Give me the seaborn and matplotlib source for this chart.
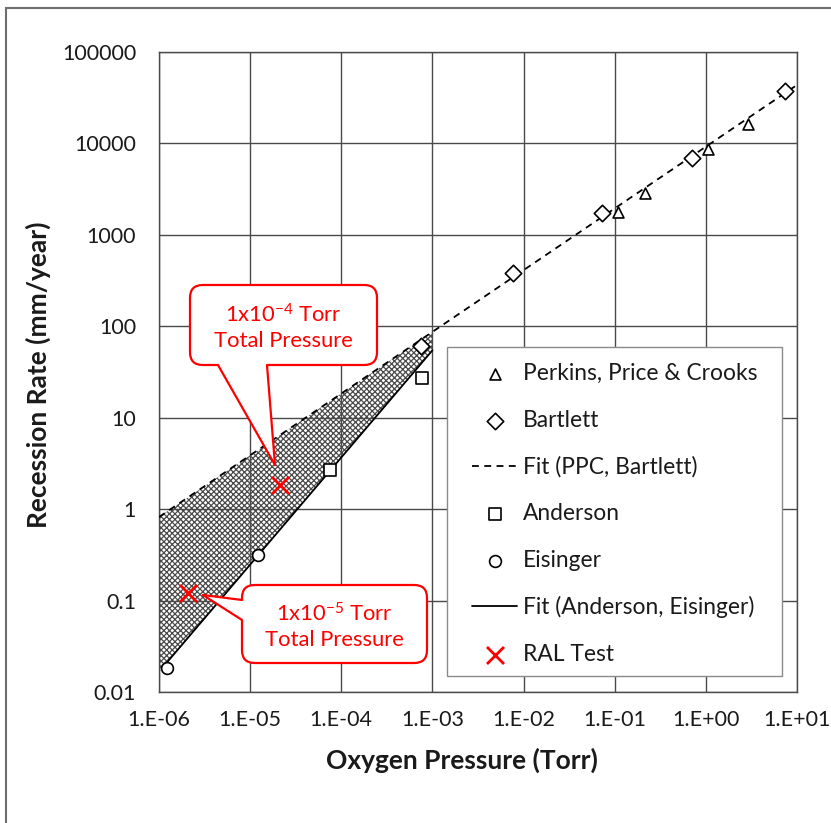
import matplotlib
matplotlib.use("Agg")
import matplotlib.pyplot as plt
import seaborn as sns
from matplotlib.patches import FancyBboxPatch, Polygon, Rectangle
from matplotlib.lines import Line2D
from matplotlib.ticker import FixedLocator, FixedFormatter, NullLocator

# ---- data -------------------------------------------------------------
# Perkins, Price & Crooks
ppc_pressure = [0.109, 0.215, 1.06, 2.9]
ppc_rate = [1780, 2870, 8690, 16300]
# Bartlett
bartlett_pressure = [7.5e-4, 7.66e-3, 0.0726, 0.705, 7.39]
bartlett_rate = [60.8, 383, 1734, 6930, 37460]
# Anderson
anderson_pressure = [7.5e-5, 7.6e-4]
anderson_rate = [2.68, 27.0]
# Eisinger
eisinger_pressure = [1.21e-6, 1.23e-5]
eisinger_rate = [0.0182, 0.315]
# RAL test points (21% O2 at 1e-5 and 1e-4 Torr total pressure)
ral_pressure = [2.1e-6, 2.1e-5]
ral_rate = [0.12, 1.85]
# power-law fits, given by their end points (straight on log-log axes)
fit_ppc_pressure = [1e-6, 1e1]
fit_ppc_rate = [0.82, 43600]
fit_ae_pressure = [1.2e-6, 1e-3]
fit_ae_rate = [0.0206, 54.6]
# band between the two fits
band_pressure = [1e-6, 1e-3]
band_low = [0.0164, 54.6]
band_high = [0.82, 86.9]

x_ticks = [1e-6, 1e-5, 1e-4, 1e-3, 1e-2, 1e-1, 1e0, 1e1]
x_tick_labels = ["1.E-06", "1.E-05", "1.E-04", "1.E-03",
                 "1.E-02", "1.E-01", "1.E+00", "1.E+01"]
y_ticks = [0.01, 0.1, 1, 10, 100, 1000, 10000, 100000]
y_tick_labels = ["0.01", "0.1", "1", "10", "100", "1000", "10000", "100000"]

# ---- style ------------------------------------------------------------
sns.set_style("white")
plt.rcParams["font.family"] = ["Lato", "DejaVu Sans"]
plt.rcParams["mathtext.fontset"] = "custom"
plt.rcParams["mathtext.rm"] = "Lato"
plt.rcParams["mathtext.default"] = "regular"
plt.rcParams["hatch.linewidth"] = 0.9

W, H = 831, 823
fig = plt.figure(figsize=(W / 100, H / 100), dpi=100)
ax_l, ax_r, ax_t, ax_b = 159, 797, 52, 692
ax = fig.add_axes([ax_l / W, 1 - ax_b / H, (ax_r - ax_l) / W, (ax_b - ax_t) / H])
ax.set_xscale("log")
ax.set_yscale("log")


def fx(px):
    return (px - ax_l) / (ax_r - ax_l)


def fy(py):
    return (ax_b - py) / (ax_b - ax_t)


grid_col = "#4a4a4a"
red = "#ff0000"

# hatched band between the fits
ax.fill_between(band_pressure, band_low, band_high, facecolor="none",
                edgecolor="#4a4a4a", linewidth=0, hatch="xxxxxx", zorder=2)

# fit lines
sns.lineplot(x=fit_ppc_pressure, y=fit_ppc_rate, color="black", linewidth=1.3,
             linestyle=(0, (3.8, 3.0)), ax=ax, label="Fit (PPC, Bartlett)", zorder=3)
sns.lineplot(x=fit_ae_pressure, y=fit_ae_rate, color="black", linewidth=1.3,
             ax=ax, label="Fit (Anderson, Eisinger)", zorder=3)

# data points
sns.scatterplot(x=ppc_pressure, y=ppc_rate, marker="^", s=62, color="white",
                edgecolor="black", linewidth=1.2, ax=ax,
                label="Perkins, Price & Crooks", zorder=5)
sns.scatterplot(x=bartlett_pressure, y=bartlett_rate, marker="D", s=70, color="white",
                edgecolor="black", linewidth=1.2, ax=ax, label="Bartlett", zorder=5)
sns.scatterplot(x=anderson_pressure, y=anderson_rate, marker="s", s=72, color="white",
                edgecolor="black", linewidth=1.2, ax=ax, label="Anderson", zorder=5)
sns.scatterplot(x=eisinger_pressure, y=eisinger_rate, marker="o", s=72, color="white",
                edgecolor="black", linewidth=1.2, ax=ax, label="Eisinger", zorder=5)
sns.scatterplot(x=ral_pressure, y=ral_rate, marker="x", s=150, color=red,
                linewidth=2.0, ax=ax, label="RAL Test", zorder=6)

# axes, ticks, grid
ax.set_xlim(1e-6, 1e1)
ax.set_ylim(0.01, 1e5)
ax.xaxis.set_major_locator(FixedLocator(x_ticks))
ax.xaxis.set_major_formatter(FixedFormatter(x_tick_labels))
ax.yaxis.set_major_locator(FixedLocator(y_ticks))
ax.yaxis.set_major_formatter(FixedFormatter(y_tick_labels))
ax.xaxis.set_minor_locator(NullLocator())
ax.yaxis.set_minor_locator(NullLocator())
ax.grid(True, color=grid_col, linewidth=1.0)
ax.set_axisbelow(True)
for sp in ax.spines.values():
    sp.set_visible(True)
    sp.set_color(grid_col)
    sp.set_linewidth(1.0)
ax.tick_params(axis="both", which="major", direction="out", length=5.5, width=1.0,
               color=grid_col, labelsize=15.5, labelcolor="#1a1a1a")
ax.tick_params(axis="x", pad=7.5)
ax.tick_params(axis="y", pad=11)

ax.set_xlabel("Oxygen Pressure (Torr)", fontsize=19, fontweight="bold", color="#1a1a1a")
ax.set_ylabel("Recession Rate (mm/year)", fontsize=19, fontweight="bold", color="#1a1a1a")
ax.xaxis.set_label_coords(fx(462), fy(760))
ax.yaxis.set_label_coords(fx(38), fy(375))
ax.xaxis.label.set_va("center")
ax.yaxis.label.set_va("center")
ax.yaxis.label.set_rotation_mode("default")

# legend with its own frame
order = ["Perkins, Price & Crooks", "Bartlett", "Fit (PPC, Bartlett)", "Anderson",
         "Eisinger", "Fit (Anderson, Eisinger)", "RAL Test"]
handles, labels = ax.get_legend_handles_labels()
lookup = dict(zip(labels, handles))
frame = Rectangle((fx(447), fy(676)), fx(782) - fx(447), fy(347) - fy(676),
                  transform=ax.transAxes, facecolor="white", edgecolor="#8a8a8a",
                  linewidth=1.0, zorder=8)
ax.add_patch(frame)
leg_fs = 16.4
leg = ax.legend([lookup[k] for k in order], order, loc="upper left",
                bbox_to_anchor=(fx(472), fy(363)), frameon=False, borderpad=0,
                borderaxespad=0, handlelength=1.98, handletextpad=0.26,
                labelspacing=1.12, fontsize=leg_fs, scatterpoints=1)
leg.set_zorder(9)
for t in leg.get_texts():
    t.set_color("#1a1a1a")


# callout boxes
def callout(box, base, tip, text):
    l, r, t, b = box
    patch = FancyBboxPatch((fx(l), fy(b)), fx(r) - fx(l), fy(t) - fy(b),
                           boxstyle="round,pad=0,rounding_size=0.02",
                           transform=ax.transAxes, facecolor="white",
                           edgecolor=red, linewidth=1.6, zorder=10)
    ax.add_patch(patch)
    (x1, y1), (x2, y2) = base
    inner = [(fx(x1), fy(y1)), (fx(tip[0]), fy(tip[1])), (fx(x2), fy(y2))]
    # fill pushed slightly into the box so the box edge is hidden under the tail
    cx, cy = fx((l + r) / 2), fy((t + b) / 2)
    push = [(px + (cx - px) * 0.02, py + (cy - py) * 0.06) for px, py in (inner[0], inner[2])]
    ax.add_patch(Polygon([push[0], inner[0], inner[1], inner[2], push[1]],
                         closed=True, transform=ax.transAxes, facecolor="white",
                         edgecolor="none", zorder=11))
    for p in (inner[0], inner[2]):
        ax.add_line(Line2D([p[0], inner[1][0]], [p[1], inner[1][1]],
                           transform=ax.transAxes, color=red, linewidth=1.6,
                           zorder=12, solid_capstyle="round"))
    ax.text(fx((l + r) / 2), fy((t + b) / 2 + 2), text, transform=ax.transAxes,
            ha="center", va="center", color=red, fontsize=15.8, linespacing=1.3,
            zorder=13)


callout((190, 377, 285, 365), ((218, 365), (267, 365)), (275, 465),
        "1x10$^{-4}$ Torr\nTotal Pressure")
callout((242, 427, 585, 663), ((242, 600), (242, 620)), (203, 595),
        "1x10$^{-5}$ Torr\nTotal Pressure")

# outer chart border
fig.patches.append(Rectangle((6 / W, -0.1), 1.2, (1 - 8 / H) + 0.1,
                             transform=fig.transFigure, fill=False,
                             edgecolor="#6e6e6e", linewidth=1.5))

fig.savefig("out.png", dpi=100)
